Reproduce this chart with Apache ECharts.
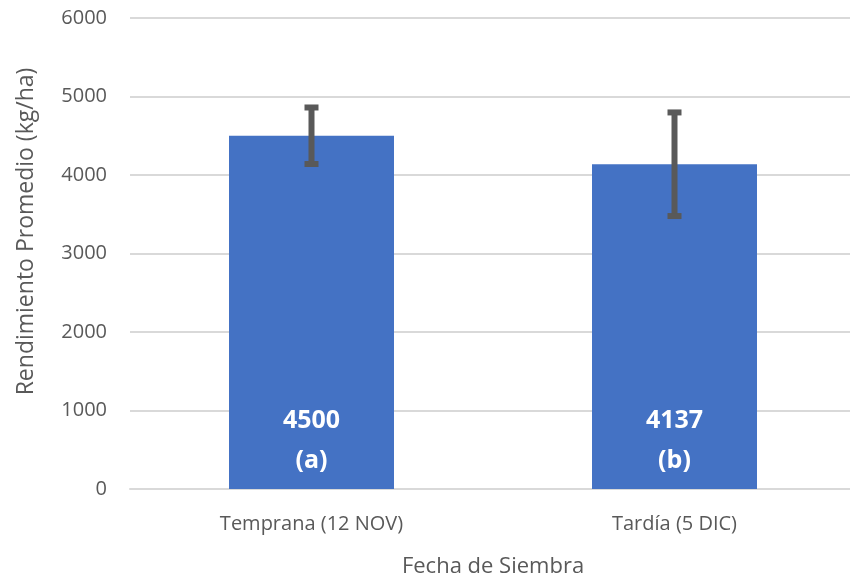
<!DOCTYPE html>
<html>
<head>
<meta charset="utf-8">
<script src="https://cdn.jsdelivr.net/npm/echarts@6/dist/echarts.min.js"></script>
<style>html,body{margin:0;padding:0;background:#fff}#c{width:850px;height:583px}</style>
</head>
<body>
<div id="c"></div>
<script>
const categories = ['Temprana (12 NOV)', 'Tardía (5 DIC)'];
const values = [4500, 4137];
const letters = ['a', 'b'];
const errors = [360, 660];
const yTicks = [0, 1000, 2000, 3000, 4000, 5000, 6000];

const FONT = '"Open Sans", "Noto Sans", sans-serif';
const chart = echarts.init(document.getElementById('c'));
chart.setOption({
  animation: false,
  grid: { left: 130, top: 18, width: 726, height: 471, containLabel: false, outerBoundsMode: 'none' },
  xAxis: {
    type: 'category',
    data: categories,
    axisTick: { show: false },
    axisLine: { lineStyle: { color: '#d9d9d9', width: 2 } },
    axisLabel: { color: '#595959', fontSize: 20, fontFamily: FONT, margin: 25 },
    name: 'Fecha de Siembra',
    nameLocation: 'middle',
    nameGap: 67,
    nameTextStyle: { color: '#595959', fontSize: 22, fontFamily: FONT }
  },
  yAxis: {
    type: 'value',
    min: yTicks[0],
    max: yTicks[yTicks.length - 1],
    interval: 1000,
    axisLine: { show: false },
    axisTick: { show: false },
    splitLine: { lineStyle: { color: '#d9d9d9', width: 2 } },
    axisLabel: { color: '#595959', fontSize: 20, fontFamily: FONT, margin: 23, formatter: v => String(v) },
    name: 'Rendimiento Promedio (kg/ha)',
    nameLocation: 'middle',
    nameGap: 92,
    nameTextStyle: { color: '#595959', fontSize: 23, fontFamily: FONT, padding: [0, 0, 0, 44] }
  },
  series: [
    {
      type: 'bar',
      data: values,
      barWidth: 165,
      itemStyle: { color: '#4472C4' },
      label: {
        show: true,
        position: 'insideBottom',
        distance: 8,
        color: '#ffffff',
        fontSize: 25,
        fontWeight: 'bold',
        fontFamily: FONT,
        lineHeight: 40,
        formatter: p => p.value + '\n(' + letters[p.dataIndex] + ')'
      }
    },
    {
      type: 'custom',
      data: values.map((v, i) => [i, v - errors[i], v + errors[i]]),
      z: 10,
      renderItem: (params, api) => {
        const lo = api.coord([api.value(0), api.value(1)]);
        const hi = api.coord([api.value(0), api.value(2)]);
        const x = lo[0];
        const st = { stroke: '#595959', lineWidth: 6 };
        return {
          type: 'group',
          children: [
            { type: 'line', shape: { x1: x, y1: hi[1], x2: x, y2: lo[1] }, style: st },
            { type: 'line', shape: { x1: x - 7, y1: hi[1], x2: x + 7, y2: hi[1] }, style: st },
            { type: 'line', shape: { x1: x - 7, y1: lo[1], x2: x + 7, y2: lo[1] }, style: st }
          ]
        };
      }
    }
  ]
});
</script>
</body>
</html>
